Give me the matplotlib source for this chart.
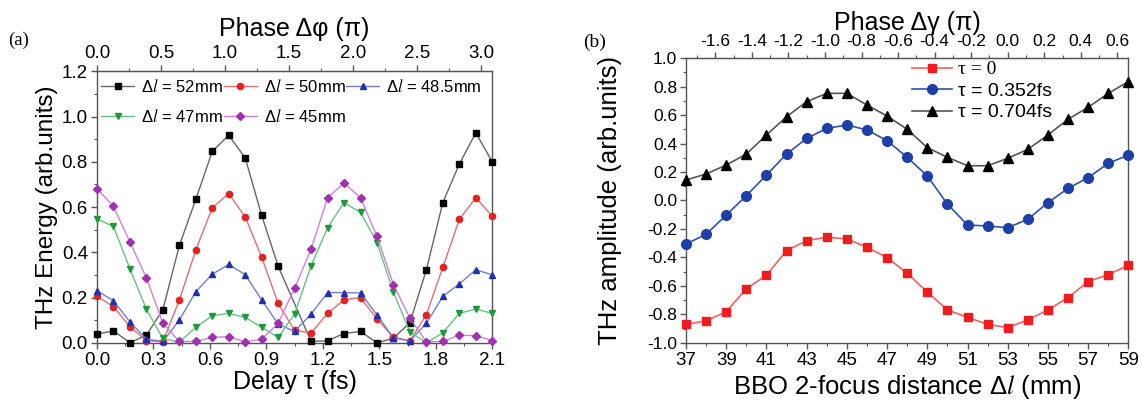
import numpy as np
import matplotlib
matplotlib.use('Agg')
import matplotlib.pyplot as plt
from matplotlib.ticker import MultipleLocator, FixedLocator, FixedFormatter

plt.rcParams['font.family'] = ['Liberation Sans', 'DejaVu Sans']
plt.rcParams['mathtext.fontset'] = 'stix'
plt.rcParams['axes.unicode_minus'] = False

# ---- panel (a): THz energy vs delay
tau = [0.0, 0.0875, 0.175, 0.2625, 0.35, 0.4375, 0.525, 0.6125, 0.7, 0.7875,
       0.875, 0.9625, 1.05, 1.1375, 1.225, 1.3125, 1.4, 1.4875, 1.575, 1.6625,
       1.75, 1.8375, 1.925, 2.0125, 2.1]
E52 = [0.038, 0.053, 0.0, 0.034, 0.146, 0.43, 0.634, 0.846, 0.917, 0.817,
       0.563, 0.338, np.nan, 0.006, 0.009, 0.041, 0.05, 0.0, 0.02, 0.089,
       0.323, 0.62, 0.79, 0.928, 0.80]
E50 = [0.205, 0.16, 0.071, 0.009, 0.005, 0.189, 0.41, 0.597, 0.659, 0.556,
       0.378, 0.174, 0.055, 0.043, 0.13, 0.19, 0.2, 0.105, 0.024, 0.009,
       0.124, 0.334, 0.545, 0.641, 0.56]
E485 = [0.23, 0.186, 0.092, 0.016, 0.006, 0.1, 0.226, 0.303, 0.346, 0.301,
        0.189, 0.083, 0.05, 0.127, 0.222, 0.222, 0.22, 0.123, 0.021, 0.009,
        0.086, 0.205, 0.26, 0.323, 0.30]
E47 = [0.547, 0.514, 0.327, 0.148, 0.019, 0.003, 0.068, 0.12, 0.13, 0.112,
       0.068, 0.024, 0.127, 0.341, 0.508, 0.62, 0.576, 0.443, 0.223, 0.049,
       0.0, 0.044, 0.13, 0.149, 0.13]
E45 = [0.681, 0.603, 0.445, 0.287, 0.086, 0.006, 0.006, 0.024, 0.027, 0.004,
       0.016, 0.086, 0.241, 0.414, 0.641, 0.706, 0.641, 0.47, 0.257, 0.109,
       0.004, 0.006, 0.034, 0.031, 0.01]

# ---- panel (b): THz amplitude vs BBO distance
dl = [37, 38, 39, 40, 41, 42, 43, 44, 45, 46, 47, 48, 49, 50, 51, 52, 53, 54,
      55, 56, 57, 58, 59]
A0 = [-0.869, -0.845, -0.78, -0.619, -0.525, -0.352, -0.281, -0.258, -0.27,
      -0.328, -0.401, -0.511, -0.642, -0.768, -0.82, -0.869, -0.892, -0.838,
      -0.768, -0.682, -0.569, -0.52, -0.455]
A352 = [-0.305, -0.237, -0.102, 0.034, 0.179, 0.326, 0.436, 0.506, 0.53, 0.495,
        0.42, 0.303, 0.172, -0.025, -0.172, -0.179, -0.191, -0.132, -0.015,
        0.085, 0.16, 0.261, 0.319]
A704 = [0.144, 0.186, 0.249, 0.326, 0.46, 0.588, 0.694, 0.752, 0.752, 0.67,
        0.593, 0.5, 0.371, 0.303, 0.244, 0.244, 0.296, 0.359, 0.46, 0.57,
        0.654, 0.752, 0.834]

fig = plt.figure(figsize=(11.44, 4.12), dpi=100)
ax1 = fig.add_axes([0.0848, 0.168, 0.3455, 0.659])
ax2 = fig.add_axes([0.5997, 0.1675, 0.3866, 0.6917])

spine_c = '#555555'
for ax in (ax1, ax2):
    for s in ax.spines.values():
        s.set_color(spine_c)
        s.set_linewidth(1.0)
    ax.tick_params(which='major', direction='out', length=4.5, width=1, color=spine_c, pad=2)
    ax.tick_params(which='minor', direction='out', length=2.5, width=0.8, color=spine_c)

# panel (a)
series_a = [
    (E52, 's', '#000000', '#666666', 'Δ$l$ = 52mm'),
    (E50, 'o', '#e32222', '#e07070', 'Δ$l$ = 50mm'),
    (E485, '^', '#1f2fb0', '#6f7fd0', 'Δ$l$ = 48.5mm'),
    (E47, 'v', '#1f9a3a', '#6cc080', 'Δ$l$ = 47mm'),
    (E45, 'D', '#a030b0', '#d080d8', 'Δ$l$ = 45mm'),
]
tau_arr = np.array(tau)
handles = []
for y, m, mc, lc, lab in series_a:
    y = np.array(y, dtype=float)
    ok = np.isfinite(y)
    ms = 4.5 if m != 'D' else 4
    h, = ax1.plot(tau_arr[ok], y[ok], '-', color=lc, lw=1.0, marker=m, ms=ms,
                  mfc=mc, mec=mc, label=lab, clip_on=False, zorder=3)
    handles.append(h)

ax1.set_xlim(0, 2.1)
ax1.set_ylim(0, 1.2)
ax1.xaxis.set_major_locator(MultipleLocator(0.3))
ax1.xaxis.set_minor_locator(MultipleLocator(0.15))
ax1.yaxis.set_major_locator(MultipleLocator(0.2))
ax1.yaxis.set_minor_locator(MultipleLocator(0.1))
ax1.xaxis.set_major_formatter(plt.FormatStrFormatter('%.1f'))
ax1.yaxis.set_major_formatter(plt.FormatStrFormatter('%.1f'))
ax1.tick_params(labelsize=13.5)
ax1.set_xlabel('Delay τ (fs)', fontsize=18, labelpad=1)
ax1.set_ylabel('THz Energy (arb.units)', fontsize=17.5, labelpad=3)

top1 = ax1.secondary_xaxis('top', functions=(lambda t: t * 1.47, lambda p: p / 1.47))
top1.xaxis.set_major_locator(MultipleLocator(0.5))
top1.xaxis.set_minor_locator(MultipleLocator(0.25))
top1.xaxis.set_major_formatter(plt.FormatStrFormatter('%.1f'))
top1.tick_params(which='major', direction='out', length=4.5, width=1, color=spine_c, pad=2, labelsize=13.5)
top1.tick_params(which='minor', direction='out', length=2.5, width=0.8, color=spine_c)
top1.spines['top'].set_color(spine_c)
top1.set_xlabel('Phase Δφ (π)', fontsize=18, labelpad=7)

order = [0, 3, 1, 4, 2]
leg1 = ax1.legend([handles[i] for i in order], [handles[i].get_label() for i in order],
                  ncol=3, loc='upper left', bbox_to_anchor=(0.01, 0.975), frameon=False,
                  fontsize=12, handlelength=2.0, handletextpad=0.4, columnspacing=0.05,
                  labelspacing=0.75, borderpad=0, borderaxespad=0)

# panel (b)
ax2.plot(dl, A0, '-', color='#f06060', lw=1.2, marker='s', ms=6, mfc='#ee1c1c',
         mec='#ee1c1c', label='τ = 0', clip_on=False, zorder=3)
ax2.plot(dl, A352, '-', color='#3050b0', lw=1.2, marker='o', ms=7, mfc='#1f3fa8',
         mec='#1f3fa8', label='τ = 0.352fs', clip_on=False, zorder=3)
ax2.plot(dl, A704, '-', color='#555555', lw=1.2, marker='^', ms=7, mfc='#000000',
         mec='#000000', label='τ = 0.704fs', clip_on=False, zorder=3)

ax2.set_xlim(37, 59)
ax2.set_ylim(-1.0, 1.0)
ax2.xaxis.set_major_locator(FixedLocator(dl[::2]))
ax2.xaxis.set_minor_locator(FixedLocator(dl[1::2]))
ax2.yaxis.set_major_locator(MultipleLocator(0.2))
ax2.yaxis.set_minor_locator(MultipleLocator(0.1))
ax2.yaxis.set_major_formatter(plt.FormatStrFormatter('%.1f'))
ax2.tick_params(axis='y', labelsize=12.5)
ax2.tick_params(axis='x', labelsize=13.5)
ax2.set_xlabel('BBO 2-focus distance Δ$l$ (mm)', fontsize=18.5, labelpad=3)
ax2.set_ylabel('THz amplitude (arb.units)', fontsize=18.5, labelpad=18)

top2 = ax2.secondary_xaxis('top', functions=(lambda d: (d - 53) * 0.11, lambda p: p / 0.11 + 53))
ph_ticks = [-1.6, -1.4, -1.2, -1.0, -0.8, -0.6, -0.4, -0.2, 0.0, 0.2, 0.4, 0.6]
top2.xaxis.set_major_locator(FixedLocator(ph_ticks))
top2.xaxis.set_major_formatter(FixedFormatter(['%.1f' % abs(v) if v == 0 else '%.1f' % v for v in ph_ticks]))
top2.xaxis.set_minor_locator(MultipleLocator(0.1))
top2.tick_params(which='major', direction='out', length=4.5, width=1, color=spine_c, pad=2, labelsize=12.5)
top2.tick_params(which='minor', direction='out', length=2.5, width=0.8, color=spine_c)
top2.spines['top'].set_color(spine_c)
top2.set_xlabel('Phase Δγ (π)', fontsize=18, labelpad=3)

leg2 = ax2.legend(loc='upper left', bbox_to_anchor=(0.51, 0.99), frameon=False,
                  fontsize=14, handlelength=2.1, handletextpad=0.3, labelspacing=0.2,
                  borderpad=0, borderaxespad=0)
leg2.get_texts()[0].set_family('Liberation Serif')

fig.text(8 / 1144, 1 - 40 / 412, '(a)', fontsize=13.5, family='Liberation Serif', va='center', ha='left')
fig.text(583 / 1144, 1 - 42 / 412, '(b)', fontsize=14, family='Liberation Serif', va='center', ha='left')

fig.savefig('out.png', dpi=100)
